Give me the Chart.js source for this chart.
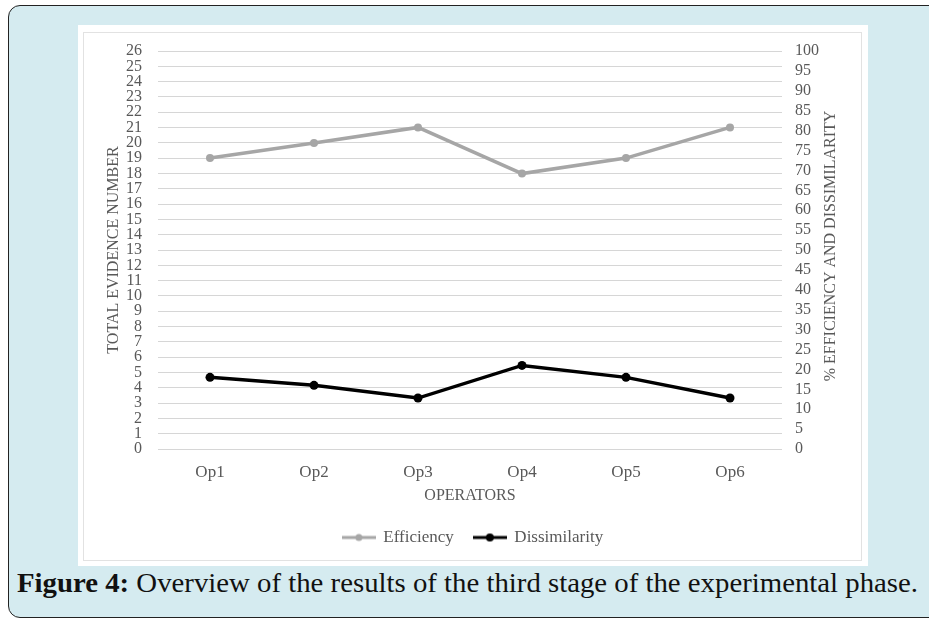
<!DOCTYPE html>
<html>
<head>
<meta charset="utf-8">
<script src="https://cdn.jsdelivr.net/npm/chart.js@4.4.1/dist/chart.umd.min.js"></script>
<style>
  body { margin: 0; width: 929px; height: 620px; background: #fff; overflow: hidden; position: relative; font-family: 'Liberation Serif', 'Times New Roman', serif; }
  #frame { position: absolute; left: 8px; top: 5px; width: 960px; height: 611px; border: 1.5px solid #222; border-radius: 12px; background: #d5ebf0; }
  #paper { position: absolute; left: 78px; top: 25px; width: 790px; height: 541px; background: #fff; }
  #inner { position: absolute; left: 5px; top: 7px; width: 779px; height: 529px; border: 1px solid #e2e2e2; box-sizing: border-box; }
  #chart { position: absolute; left: 0; top: 0; }
  #caption { position: absolute; left: 17px; top: 568px; font-size: 27px; white-space: nowrap; color: #111; transform-origin: left top; }
</style>
</head>
<body>
<div id="frame"></div>
<div id="paper">
  <div id="inner"></div>
  <canvas id="chart" width="790" height="541"></canvas>
</div>
<div id="caption"><b>Figure 4:</b> Overview of the results of the third stage of the experimental phase.</div>
<script>
// données (en %)
const operateurs = ['Op1', 'Op2', 'Op3', 'Op4', 'Op5', 'Op6'];
const efficiency = [73.1, 76.9, 80.8, 69.2, 73.1, 80.8];
const dissimilarity = [18, 16, 12.8, 21, 18, 12.8];

const gris = '#595959';
const police = "'Liberation Serif', 'Times New Roman', serif";

// petit symbole de légende : trait + point
function legendIcon(color, lw, r) {
    const c = document.createElement('canvas');
    c.width = 34;
    c.height = 12;
    const g = c.getContext('2d');
    g.strokeStyle = color;
    g.lineWidth = lw;
    g.beginPath();
    g.moveTo(0, 6);
    g.lineTo(34, 6);
    g.stroke();
    g.fillStyle = color;
    g.beginPath();
    g.arc(17, 6, r, 0, Math.PI * 2);
    g.fill();
    return c;
}
const icons = [legendIcon('#a6a6a6', 3, 3.5), legendIcon('#000', 3, 4)];

// titre de l'axe droit, lu de bas en haut
const titreDroit = {
    id: 'titreDroit',
    afterDraw(ch) {
        const s = ch.scales.y1;
        const c = ch.ctx;
        c.save();
        c.fillStyle = gris;
        c.font = '16px ' + police;
        c.textAlign = 'center';
        c.textBaseline = 'middle';
        c.translate(s.right - 8 - 9.6, (ch.chartArea.top + ch.chartArea.bottom) / 2 - 4);
        c.rotate(-Math.PI / 2);
        c.fillText('% EFFICIENCY AND DISSIMILARITY', 0, 0);
        c.restore();
    }
};

const ctx = document.getElementById('chart').getContext('2d');
const chart = new Chart(ctx, {
    type: 'line',
    data: {
        labels: operateurs,
        datasets: [{
            label: 'Efficiency',
            data: efficiency,
            yAxisID: 'y1',
            borderColor: '#a6a6a6',
            backgroundColor: '#a6a6a6',
            borderWidth: 3.5,
            pointRadius: 4,
            pointBorderWidth: 0,
            tension: 0
        }, {
            label: 'Dissimilarity',
            data: dissimilarity,
            yAxisID: 'y1',
            borderColor: '#000',
            backgroundColor: '#000',
            borderWidth: 3.5,
            pointRadius: 4.5,
            pointBorderWidth: 0,
            tension: 0
        }]
    },
    plugins: [titreDroit],
    options: {
        responsive: false,
        animation: false,
        layout: { padding: { left: 20, right: 20, top: 26, bottom: 10 } },
        plugins: {
            tooltip: { enabled: false },
            legend: {
                position: 'bottom',
                labels: {
                    usePointStyle: true,
                    pointStyleWidth: 32,
                    padding: 20,
                    color: gris,
                    font: { family: police, size: 17 },
                    generateLabels: (ch) => {
                        const items = Chart.defaults.plugins.legend.labels.generateLabels(ch);
                        items.forEach((it, i) => { it.pointStyle = icons[i]; });
                        return items;
                    }
                }
            }
        },
        scales: {
            x: {
                offset: true,
                grid: { display: false },
                border: { display: false },
                ticks: { color: gris, font: { family: police, size: 17 }, padding: 5 },
                title: { display: true, text: 'OPERATORS', color: gris, font: { family: police, size: 16 }, padding: { top: 0, bottom: 4 } },
                afterFit: (s) => { s.height = 60; }
            },
            y: {
                position: 'left',
                min: 0,
                max: 26,
                ticks: { stepSize: 1, autoSkip: false, color: gris, font: { family: police, size: 16 }, padding: 16 },
                grid: { color: '#d6d6d6', drawTicks: false },
                border: { display: false },
                title: { display: true, text: 'TOTAL EVIDENCE NUMBER', color: gris, font: { family: police, size: 16 }, padding: { top: 6 } },
                afterFit: (s) => { s.width = 60; }
            },
            y1: {
                position: 'right',
                min: 0,
                max: 100,
                ticks: { stepSize: 5, autoSkip: false, color: gris, font: { family: police, size: 16 }, padding: 13 },
                grid: { display: false, drawTicks: false },
                border: { display: false },
                title: { display: false },
                afterFit: (s) => { s.width = 66; }
            }
        }
    }
});

// ajuster la largeur de la légende de figure
const cap = document.getElementById('caption');
const w = cap.getBoundingClientRect().width;
cap.style.transform = 'scaleX(' + (901 / w) + ')';
</script>
</body>
</html>
